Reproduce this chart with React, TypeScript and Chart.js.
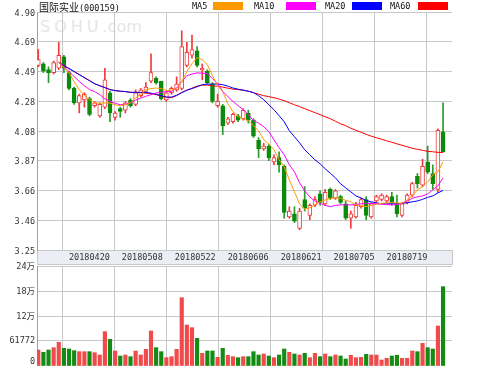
import React, { useEffect, useRef } from 'react';
import { Chart, registerables } from 'chart.js';

Chart.register(...registerables);

const TITLE_NAME = '国际实业';
const TITLE_CODE = '(000159)';
const MA_NAMES = ['MA5', 'MA10', 'MA20', 'MA60'];
const MA_COLORS = ['#ff9900', '#ff00ff', '#0000ff', '#ff0000'];

const DATE_LABELS = ['20180420', '20180508', '20180522', '20180606', '20180621', '20180705', '20180719'];
const PRICE_TICK_LABELS = ['3.25', '3.46', '3.66', '3.87', '4.08', '4.28', '4.49', '4.69', '4.90'];
const PRICE_MIN = 3.25;
const PRICE_MAX = 4.9;
const VOLUME_TICKS = [0, 61772, 120000, 180000, 240000];
const VOLUME_MAX = 240000;

const OPEN = [
  4.53, 4.54, 4.50, 4.48, 4.51, 4.59, 4.48, 4.37, 4.27, 4.29,
  4.30, 4.25, 4.18, 4.24, 4.34, 4.17, 4.23, 4.22, 4.29, 4.26,
  4.32, 4.35, 4.42, 4.44, 4.42, 4.29, 4.34, 4.36, 4.37, 4.53,
  4.60, 4.63, 4.50, 4.49, 4.40, 4.25, 4.25, 4.13, 4.14, 4.18,
  4.16, 4.20, 4.15, 4.01, 3.95, 3.97, 3.86, 3.89, 3.83, 3.48,
  3.50, 3.40, 3.60, 3.49, 3.56, 3.64, 3.57, 3.67, 3.61, 3.62,
  3.57, 3.47, 3.48, 3.55, 3.60, 3.48, 3.59, 3.60, 3.59, 3.62,
  3.57, 3.49, 3.58, 3.63, 3.76, 3.70, 3.86, 3.78, 3.67, 4.07,
];
const CLOSE = [
  4.57, 4.49, 4.48, 4.55, 4.60, 4.51, 4.37, 4.27, 4.32, 4.33,
  4.19, 4.27, 4.26, 4.43, 4.20, 4.20, 4.21, 4.27, 4.25, 4.34,
  4.36, 4.38, 4.48, 4.41, 4.30, 4.34, 4.37, 4.40, 4.66, 4.62,
  4.64, 4.53, 4.51, 4.41, 4.28, 4.28, 4.11, 4.16, 4.19, 4.15,
  4.22, 4.15, 4.04, 3.95, 3.97, 3.89, 3.89, 3.84, 3.51, 3.52,
  3.45, 3.52, 3.54, 3.56, 3.60, 3.58, 3.65, 3.61, 3.66, 3.58,
  3.47, 3.50, 3.56, 3.60, 3.49, 3.57, 3.62, 3.63, 3.62, 3.58,
  3.50, 3.57, 3.63, 3.71, 3.71, 3.83, 3.79, 3.71, 4.08, 3.93,
];
const HIGH = [
  4.64, 4.55, 4.52, 4.56, 4.69, 4.60, 4.49, 4.38, 4.33, 4.34,
  4.31, 4.28, 4.27, 4.51, 4.35, 4.21, 4.24, 4.28, 4.30, 4.36,
  4.37, 4.41, 4.61, 4.45, 4.42, 4.35, 4.38, 4.45, 4.77, 4.69,
  4.74, 4.66, 4.54, 4.50, 4.41, 4.33, 4.26, 4.17, 4.20, 4.19,
  4.23, 4.22, 4.16, 4.03, 3.99, 3.98, 3.91, 3.93, 3.84, 3.55,
  3.55, 3.54, 3.69, 3.57, 3.62, 3.66, 3.67, 3.68, 3.67, 3.63,
  3.59, 3.52, 3.58, 3.61, 3.62, 3.58, 3.63, 3.64, 3.63, 3.65,
  3.63, 3.58, 3.64, 3.72, 3.78, 3.88, 3.97, 3.84, 4.09, 4.27,
];
const LOW = [
  4.52, 4.48, 4.41, 4.47, 4.50, 4.48, 4.36, 4.26, 4.20, 4.24,
  4.18, 4.24, 4.17, 4.23, 4.14, 4.15, 4.17, 4.20, 4.24, 4.25,
  4.31, 4.34, 4.41, 4.40, 4.29, 4.28, 4.33, 4.35, 4.36, 4.52,
  4.58, 4.52, 4.43, 4.40, 4.27, 4.24, 4.05, 4.12, 4.13, 4.14,
  4.15, 4.13, 4.03, 3.89, 3.94, 3.87, 3.84, 3.79, 3.47, 3.47,
  3.44, 3.39, 3.52, 3.46, 3.55, 3.56, 3.56, 3.60, 3.60, 3.57,
  3.46, 3.40, 3.47, 3.54, 3.46, 3.47, 3.58, 3.59, 3.58, 3.56,
  3.48, 3.48, 3.57, 3.62, 3.68, 3.69, 3.78, 3.67, 3.65, 3.93,
];
const VOLUME = [
  38400, 32800, 38400, 44000, 56800, 42400, 40800, 36800, 34400, 34400,
  34400, 32000, 26400, 82400, 64000, 36000, 24000, 26400, 22400, 36000,
  26400, 40000, 84000, 44000, 34400, 20000, 22400, 40000, 164000, 98400,
  92000, 66400, 30400, 36000, 36000, 20800, 42400, 25600, 22400, 20000,
  22400, 22400, 34400, 26400, 28800, 24000, 20000, 26400, 40800, 32800,
  28800, 26400, 30400, 20000, 30400, 22400, 28800, 22400, 26400, 24000,
  16800, 25600, 20000, 20800, 28000, 26400, 26400, 14400, 18400, 24000,
  25600, 18400, 18400, 36000, 34400, 54400, 44000, 40800, 96000, 190400,
];
const MA5 = [
  null, null, null, null, 4.551, 4.514, 4.480, 4.417, 4.362, 4.320,
  4.292, 4.271, 4.268, 4.269, 4.269, 4.257, 4.250, 4.257, 4.269, 4.306,
  4.327, 4.362, 4.369, 4.373, 4.369, 4.357, 4.358, 4.369, 4.417, 4.487,
  4.542, 4.584, 4.570, 4.535, 4.459, 4.389, 4.348, 4.264, 4.209, 4.176,
  4.160, 4.146, 4.112, 4.077, 4.014, 3.986, 3.945, 3.875, 3.827, 3.736,
  3.653, 3.570, 3.535, 3.542, 3.563, 3.584, 3.597, 3.608, 3.609, 3.608,
  3.594, 3.584, 3.563, 3.556, 3.551, 3.559, 3.566, 3.574, 3.577, 3.579,
  3.577, 3.574, 3.597, 3.625, 3.667, 3.688, 3.722, 3.771, 3.792, 3.861,
];
const MA10 = [
  null, null, null, null, 4.551, 4.521, 4.487, 4.452, 4.419, 4.389,
  4.362, 4.348, 4.327, 4.299, 4.280, 4.268, 4.257, 4.261, 4.269, 4.289,
  4.304, 4.316, 4.327, 4.339, 4.344, 4.348, 4.350, 4.373, 4.417, 4.459,
  4.469, 4.478, 4.476, 4.473, 4.438, 4.403, 4.350, 4.313, 4.280, 4.250,
  4.223, 4.188, 4.146, 4.130, 4.105, 4.070, 4.014, 3.959, 3.910, 3.841,
  3.792, 3.716, 3.660, 3.618, 3.590, 3.573, 3.559, 3.551, 3.559, 3.563,
  3.563, 3.563, 3.566, 3.570, 3.574, 3.573, 3.570, 3.568, 3.565, 3.563,
  3.566, 3.573, 3.590, 3.609, 3.618, 3.625, 3.639, 3.667, 3.695, 3.750,
];
const MA20 = [
  null, null, null, null, 4.551, 4.528, 4.508, 4.487, 4.466, 4.445,
  4.424, 4.403, 4.389, 4.376, 4.362, 4.355, 4.351, 4.348, 4.343, 4.343,
  4.343, 4.343, 4.337, 4.330, 4.320, 4.310, 4.310, 4.323, 4.341, 4.358,
  4.369, 4.382, 4.396, 4.400, 4.401, 4.401, 4.396, 4.386, 4.373, 4.365,
  4.358, 4.351, 4.341, 4.320, 4.292, 4.257, 4.223, 4.181, 4.139, 4.077,
  4.035, 3.993, 3.945, 3.910, 3.875, 3.848, 3.813, 3.782, 3.750, 3.709,
  3.681, 3.653, 3.625, 3.611, 3.594, 3.584, 3.577, 3.570, 3.570, 3.570,
  3.570, 3.573, 3.577, 3.584, 3.590, 3.601, 3.615, 3.625, 3.646, 3.663,
];
const MA60 = [
  null, null, null, null, 4.551, 4.528, 4.508, 4.487, 4.466, 4.445,
  4.424, 4.403, 4.389, 4.376, 4.362, 4.355, 4.351, 4.348, 4.343, 4.343,
  4.341, 4.337, 4.334, 4.327, 4.317, 4.310, 4.306, 4.320, 4.341, 4.358,
  4.372, 4.386, 4.393, 4.393, 4.389, 4.385, 4.379, 4.372, 4.365, 4.362,
  4.358, 4.351, 4.341, 4.330, 4.320, 4.313, 4.306, 4.296, 4.285, 4.271,
  4.257, 4.244, 4.230, 4.216, 4.202, 4.188, 4.174, 4.160, 4.143, 4.125,
  4.112, 4.094, 4.080, 4.066, 4.052, 4.039, 4.028, 4.018, 4.007, 3.997,
  3.986, 3.976, 3.966, 3.955, 3.948, 3.941, 3.934, 3.931, 3.927, 3.926,
];
const MA_SERIES = [MA5, MA10, MA20, MA60];

const RED = '#f03c3c';
const GREEN = '#0b8a0b';
const GREEN_WICK = '#2a9a2a';
const VOL_RED = '#f04a4a';
const VOL_GREEN = '#148c14';
const GRID = '#c8c8c8';
const AXIS = '#a0a0a0';
const BAND = '#eceef6';
const TEXT = '#333333';
const NUM_FONT = '"DejaVu Sans Mono", "Noto Sans CJK SC", monospace';

// index axis: one unit per trading day
const X_MIN = -0.25;
const X_MAX = 80.75;
// date label axis
const LBL_MIN = -0.99;
const LBL_MAX = 6.85;

function eightColumns(s: any) {
  const t: any[] = [];
  for (let k = 0; k <= 8; k++) t.push({ value: s.min + ((s.max - s.min) * k) / 8 });
  s.ticks = t;
}

function fixedYAxis(s: any) {
  s.width = 37;
  s.paddingTop = 0;
  s.paddingBottom = 0;
}

function flatXAxis(s: any) {
  s.height = 0;
  s.paddingLeft = 0;
  s.paddingRight = 0;
}

const bandPlugin = {
  id: 'dateBand',
  beforeDraw(chart: any) {
    const s = chart.scales.xLabels;
    const a = chart.chartArea;
    if (!s) return;
    const ctx = chart.ctx;
    ctx.save();
    ctx.fillStyle = BAND;
    ctx.fillRect(a.left, s.top, a.right - a.left, s.bottom - s.top);
    ctx.strokeStyle = GRID;
    ctx.lineWidth = 1;
    ctx.strokeRect(Math.round(a.left) + 0.5, Math.round(s.top) + 0.5, Math.round(a.right - a.left), Math.round(s.bottom - s.top) - 1);
    ctx.restore();
  },
};

export default function App() {
  const priceRef = useRef<HTMLCanvasElement | null>(null);
  const volRef = useRef<HTMLCanvasElement | null>(null);

  useEffect(() => {
    const idx = OPEN.map((_, i) => i);
    const up = idx.map((i) => CLOSE[i] >= OPEN[i]);

    const lineSets = MA_SERIES.map((arr, k) => ({
      type: 'line' as const,
      label: MA_NAMES[k],
      data: arr.map((v, i) => ({ x: i, y: v })),
      borderColor: MA_COLORS[k],
      borderWidth: 1,
      pointRadius: 0,
      tension: 0,
      fill: false,
      order: 0,
    }));

    const price = new Chart(priceRef.current as HTMLCanvasElement, {
      type: 'bar',
      data: {
        datasets: [
          ...lineSets,
          {
            type: 'bar',
            label: 'body',
            data: idx.map((i) => ({ x: i, y: [OPEN[i], CLOSE[i]] })),
            backgroundColor: idx.map((i) => (up[i] ? '#ffffff' : GREEN)),
            borderColor: idx.map((i) => (up[i] ? RED : GREEN)),
            borderWidth: 1,
            borderSkipped: false,
            barThickness: 4,
            minBarLength: 1,
            grouped: false,
            order: 1,
          },
          {
            type: 'bar',
            label: 'wick',
            data: idx.map((i) => ({ x: i, y: [LOW[i], HIGH[i]] })),
            backgroundColor: idx.map((i) => (up[i] ? RED : GREEN_WICK)),
            borderWidth: 0,
            barThickness: 1,
            grouped: false,
            order: 2,
          },
        ] as any,
      },
      options: {
        responsive: false,
        animation: false,
        events: [],
        layout: { padding: { top: 12, right: 47, left: 0, bottom: 0 }, autoPadding: false },
        plugins: { legend: { display: false }, tooltip: { enabled: false } },
        scales: {
          x: {
            type: 'linear',
            min: X_MIN,
            max: X_MAX,
            offset: false,
            weight: 0,
            afterBuildTicks: eightColumns,
            afterFit: flatXAxis,
            ticks: { display: false },
            grid: { color: GRID, drawTicks: false },
            border: { display: false },
          },
          xLabels: {
            type: 'linear',
            position: 'bottom',
            min: LBL_MIN,
            max: LBL_MAX,
            offset: false,
            weight: 1,
            afterBuildTicks: (s: any) => { s.ticks = DATE_LABELS.map((_, k) => ({ value: k })); },
            afterFit: (s: any) => { s.height = 15; s.paddingLeft = 0; s.paddingRight = 0; },
            ticks: {
              autoSkip: false,
              maxRotation: 0,
              padding: 3,
              color: TEXT,
              font: { family: NUM_FONT, size: 8.5 },
              callback: (_v: any, i: number) => DATE_LABELS[i],
            },
            grid: { display: false, drawTicks: false },
            border: { display: false },
          },
          y: {
            type: 'linear',
            min: PRICE_MIN,
            max: PRICE_MAX,
            afterBuildTicks: (s: any) => {
              s.ticks = PRICE_TICK_LABELS.map((_, k) => ({ value: PRICE_MIN + ((PRICE_MAX - PRICE_MIN) * k) / 8 }));
            },
            afterFit: fixedYAxis,
            ticks: {
              autoSkip: false,
              padding: 2,
              labelOffset: 1.5,
              color: TEXT,
              font: { family: NUM_FONT, size: 8.5 },
              callback: (_v: any, i: number) => PRICE_TICK_LABELS[i],
            },
            grid: { color: GRID, drawTicks: false },
            border: { color: AXIS },
          },
        },
      } as any,
      plugins: [bandPlugin],
    });

    const vol = new Chart(volRef.current as HTMLCanvasElement, {
      type: 'bar',
      data: {
        datasets: [
          {
            label: 'volume',
            data: idx.map((i) => ({ x: i, y: VOLUME[i] })),
            backgroundColor: idx.map((i) => (up[i] ? VOL_RED : VOL_GREEN)),
            borderWidth: 0,
            barThickness: 3.5,
            grouped: false,
          },
        ] as any,
      },
      options: {
        responsive: false,
        animation: false,
        events: [],
        layout: { padding: { top: 11, right: 47, left: 0, bottom: 0 }, autoPadding: false },
        plugins: { legend: { display: false }, tooltip: { enabled: false } },
        scales: {
          x: {
            type: 'linear',
            min: X_MIN,
            max: X_MAX,
            offset: false,
            afterBuildTicks: eightColumns,
            afterFit: flatXAxis,
            ticks: { display: false },
            grid: { color: GRID, drawTicks: false },
            border: { display: false },
          },
          y: {
            type: 'linear',
            min: 0,
            max: VOLUME_MAX,
            afterBuildTicks: (s: any) => { s.ticks = VOLUME_TICKS.map((v) => ({ value: v })); },
            afterFit: fixedYAxis,
            ticks: {
              autoSkip: false,
              padding: 2,
              labelOffset: 1,
              color: TEXT,
              font: { family: NUM_FONT, size: 8.5 },
              callback: (v: any) => {
                if (v === 0) return ['0', ''];
                if (v % 10000 === 0) return `${v / 10000}万`;
                return String(v);
              },
            },
            grid: { color: GRID, drawTicks: false },
            border: { color: AXIS },
          },
        },
      } as any,
    });

    return () => {
      price.destroy();
      vol.destroy();
    };
  }, []);

  const legendLeft = [192, 254, 325, 390];
  const boxLeft = [213, 286, 352, 418];

  return (
    <div style={{ position: 'absolute', left: 0, top: 0, width: 499, height: 366, background: '#ffffff', overflow: 'hidden' }}>
      <div
        style={{
          position: 'absolute', left: 40, top: 18, fontFamily: '"DejaVu Sans", sans-serif', fontSize: 16,
          color: '#e6e6e6', letterSpacing: 4, lineHeight: '18px', whiteSpace: 'nowrap',
        }}
      >
        SOHU<span style={{ letterSpacing: 0 }}>.com</span>
      </div>
      <canvas ref={priceRef} width={499} height={265} style={{ position: 'absolute', left: 0, top: 0 }} />
      <canvas ref={volRef} width={499} height={111} style={{ position: 'absolute', left: 0, top: 255 }} />
      <div style={{ position: 'absolute', left: 39, top: 0, whiteSpace: 'nowrap', lineHeight: '12px', color: '#111' }}>
        <span style={{ fontFamily: '"Noto Sans CJK SC", sans-serif', fontSize: 10 }}>{TITLE_NAME}</span>
        <span style={{ fontFamily: NUM_FONT, fontSize: 8.5 }}>{TITLE_CODE}</span>
      </div>
      {MA_NAMES.map((n, k) => (
        <React.Fragment key={n}>
          <div style={{ position: 'absolute', left: legendLeft[k], top: 0, lineHeight: '12px', fontFamily: NUM_FONT, fontSize: 8.5, color: '#111' }}>{n}</div>
          <div style={{ position: 'absolute', left: boxLeft[k], top: 2, width: 30, height: 8, background: MA_COLORS[k] }} />
        </React.Fragment>
      ))}
    </div>
  );
}
